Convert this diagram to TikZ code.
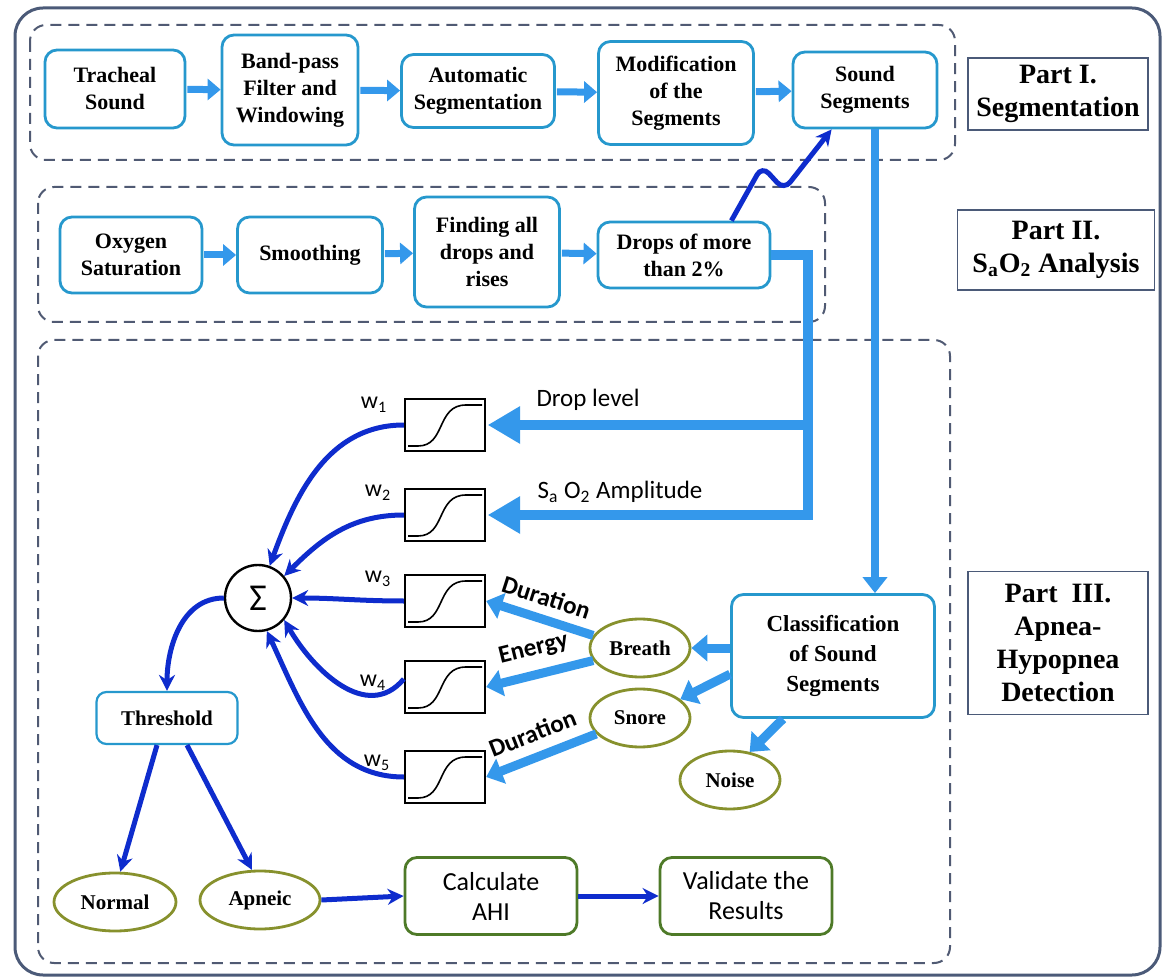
\documentclass[tikz,border=0pt]{standalone}
\usepackage{fontspec}
\setmainfont{Liberation Serif}
\setsansfont{Carlito}
\usepackage{tikz}
\usetikzlibrary{arrows.meta,shapes.geometric}

\definecolor{boxblue}{RGB}{38,152,205}
\definecolor{fatblue}{RGB}{52,152,235}
\definecolor{darkblue}{RGB}{14,44,205}
\definecolor{olive}{RGB}{135,145,45}
\definecolor{boxgreen}{RGB}{78,122,40}
\definecolor{dashgray}{RGB}{80,90,115}
\definecolor{framegray}{RGB}{75,90,120}

\begin{document}
\begin{tikzpicture}[x=0.5pt,y=0.5pt,
    box/.style={draw=boxblue, line width=1.4pt, rounded corners=6pt, fill=white, align=center, inner sep=2pt, font=\bfseries\fontsize{11}{13.5}\selectfont},
    partbox/.style={draw=framegray, line width=0.9pt, fill=white, align=center, font=\bfseries\fontsize{14}{16.5}\selectfont},
    oval/.style={ellipse, draw=olive, line width=1.4pt, fill=white, inner sep=1pt, minimum width=50pt, minimum height=29pt, font=\bfseries\fontsize{10.5}{12}\selectfont},
    greenbox/.style={draw=boxgreen, line width=1.4pt, rounded corners=6pt, fill=white, align=center, minimum width=86pt, minimum height=38.5pt, font=\sffamily\fontsize{13}{15}\selectfont},
    sigbox/.style={draw=black, line width=1.2pt, minimum width=40pt, minimum height=26pt, inner sep=0pt},
    group/.style={draw=dashgray, line width=1pt, dash pattern=on 5.5pt off 3.5pt, rounded corners=8pt},
    rowarrow/.style={draw=fatblue, line width=3.5pt, -{Triangle[width=10.5pt,length=6.5pt]}, shorten <=0.5pt},
    fatarrow/.style={draw=fatblue, line width=4.5pt, -{Triangle[width=13pt,length=8pt]}},
    bigline/.style={draw=fatblue, line width=5pt, line join=miter},
    darkarrow/.style={draw=darkblue, line width=2.5pt, -{Stealth[length=8pt,width=8pt]}},
    sanslabel/.style={font=\sffamily\fontsize{12.5}{14}\selectfont},
    featlabel/.style={font=\sffamily\bfseries\fontsize{12.5}{14}\selectfont},
    wlabel/.style={font=\sffamily\fontsize{12}{14}\selectfont}]
    \useasboundingbox (0,0) rectangle (1164,-979);

    % frames
    \draw[framegray, line width=1.5pt, rounded corners=14pt] (15,-8) rectangle (1160,-975);
    \draw[group] (30,-25) rectangle (955,-160);
    \draw[group] (38,-187) rectangle (825,-322);
    \draw[group] (38,-340) rectangle (950,-963);

    % Part I
    \node[box, minimum width=70pt, minimum height=39pt] (trach) at (115,-89) {Tracheal\\Sound};
    \node[box, minimum width=68pt, minimum height=55pt] (band) at (290,-90) {Band-pass\\Filter and\\Windowing};
    \node[box, minimum width=76.5pt, minimum height=36.5pt] (autoseg) at (478,-91) {Automatic\\Segmentation};
    \node[box, minimum width=77.5pt, minimum height=51.5pt] (modif) at (676,-93) {Modification\\of the\\Segments};
    \node[box, minimum width=72pt, minimum height=38pt] (sndseg) at (865,-90) {Sound\\Segments};

    % Part II
    \node[box, minimum width=71pt, minimum height=38pt] (oxy) at (131,-255) {Oxygen\\Saturation};
    \node[box, minimum width=72.5pt, minimum height=38pt] (smooth) at (310,-255) {Smoothing};
    \node[box, minimum width=72.5pt, minimum height=55pt] (finding) at (487,-252) {Finding all\\drops and\\rises};
    \node[box, minimum width=86pt, minimum height=33pt] (drops) at (684,-255) {Drops of more\\than 2\%};

    % part labels
    \node[partbox, minimum width=90pt, minimum height=36pt] (part1) at (1058,-94) {Part I.\\Segmentation};
    \node[partbox, minimum width=98.5pt, minimum height=40pt] (part2) at (1056,-250) {Part II.\\S\textsubscript{a}O\textsubscript{2} Analysis};
    \node[partbox, minimum width=90pt, minimum height=71.5pt] (part3) at (1058,-643) {Part~ III.\\Apnea-\\Hypopnea\\Detection};

    \foreach \a/\b in {trach/band,band/autoseg,autoseg/modif,modif/sndseg,oxy/smooth,smooth/finding,finding/drops}
        \draw[rowarrow] (\a) -- (\b);
    \draw[darkarrow, rounded corners=5pt] ([xshift=-20pt]drops.north east) -- (762,-166) -- (784,-190) -- ([xshift=20pt]sndseg.south west);

    % Part III
    \foreach \i/\y/\wx/\wy in {1/425/374/405,2/515/378/493,3/601/378/579,4/687/373/683,5/777/377/763}{
        \node[sigbox] (sig\i) at (445,-\y) {};
        \draw[line width=0.8pt] (408,{-\y-21}) -- (418,{-\y-21}) .. controls (446,{-\y-21}) and (436,{-\y+20}) .. (466,{-\y+20}) -- (482,{-\y+20});
        \node[wlabel] (w\i) at (\wx,-\wy) {w\textsubscript{\i}};
    }
    \node[circle, draw=black, line width=1.2pt, minimum size=33pt, inner sep=0pt, font=\sffamily\fontsize{19}{20}\selectfont] (sum) at (258,-598) {Σ};
    \node[box, line width=1.1pt, rounded corners=5pt, minimum width=70.5pt, minimum height=26pt, font=\bfseries\fontsize{10.5}{12}\selectfont] (thr) at (167,-718) {Threshold};
    \node[oval, minimum width=61pt] (normal) at (115,-902) {Normal};
    \node[oval, minimum width=60pt] (apneic) at (260,-900) {Apneic};
    \node[greenbox] (calc) at (491,-896) {Calculate\\AHI};
    \node[greenbox] (valid) at (746,-896) {Validate the\\Results};
    \node[box, minimum width=101.5pt, minimum height=61.5pt, font=\bfseries\fontsize{11.5}{15}\selectfont] (classif) at (833,-656) {Classification\\of Sound\\Segments};
    \node[oval] (breath) at (640,-648) {Breath};
    \node[oval] (snore) at (640,-718) {Snore};
    \node[oval] (noise) at (730,-780) {Noise};

    % SaO2 features
    \coordinate (dcol) at (808,0);
    \draw[bigline] (dcol |- sig1.east) -- ([xshift=14pt]sig1.east);
    \draw[bigline] (drops.east) -- (drops.east -| dcol) -- (dcol |- sig2.east) -- ([xshift=14pt]sig2.east);
    \fill[fatblue] ([xshift=1pt]sig1.east) -- ++(32,19) -- ++(0,-38) -- cycle;
    \fill[fatblue] ([xshift=1pt]sig2.east) -- ++(32,19) -- ++(0,-38) -- cycle;
    \node[sanslabel] (droplbl) at (588,-400) {Drop level};
    \node[sanslabel] (amplbl) at (620,-492) {S\textsubscript{a} O\textsubscript{2} Amplitude};

    % sound features
    \coordinate (scol) at (875,0);
    \draw[draw=fatblue, line width=4pt, -{Triangle[width=12pt,length=8pt]}] (sndseg.south -| scol) -- (classif.north -| scol);
    \draw[fatarrow] (classif.west |- breath) -- (breath.east);
    \draw[fatarrow] (classif.190) -- (snore.25);
    \draw[fatarrow] ([xshift=-25pt]classif.south) -- (noise.55);
    \draw[fatarrow] (breath.165) -- (sig3.east) node[midway, above=1pt, sloped, featlabel] {Duration};
    \draw[fatarrow] (breath.195) -- (sig4.east) node[midway, above=2pt, sloped, featlabel] {Energy};
    \draw[fatarrow] (snore.200) -- (sig5.east) node[midway, above=2pt, sloped, featlabel] {Duration};

    % weighted sum and decision
    \draw[darkarrow] (sig1.west) to[out=180, in=70] (sum.70);
    \draw[darkarrow] (sig2.west) to[out=180, in=45] (sum.40);
    \draw[darkarrow] (sig3.west) to[out=180, in=0] (sum.east);
    \draw[darkarrow] ([yshift=4pt]sig4.west) to[out=230, in=-60, looseness=1.1] (sum.-40);
    \draw[darkarrow] (sig5.west) to[out=180, in=-65] (sum.-75);
    \draw[darkarrow] (sum.west) to[out=180, in=90] (thr.north);
    \draw[darkarrow] ([xshift=-5pt]thr.south) -- (normal.80);
    \draw[darkarrow] ([xshift=10pt]thr.south) -- (apneic.105);
    \draw[darkarrow] (apneic.east) -- (calc.west);
    \draw[darkarrow] (calc.east) -- (valid.west);
\end{tikzpicture}
\end{document}
